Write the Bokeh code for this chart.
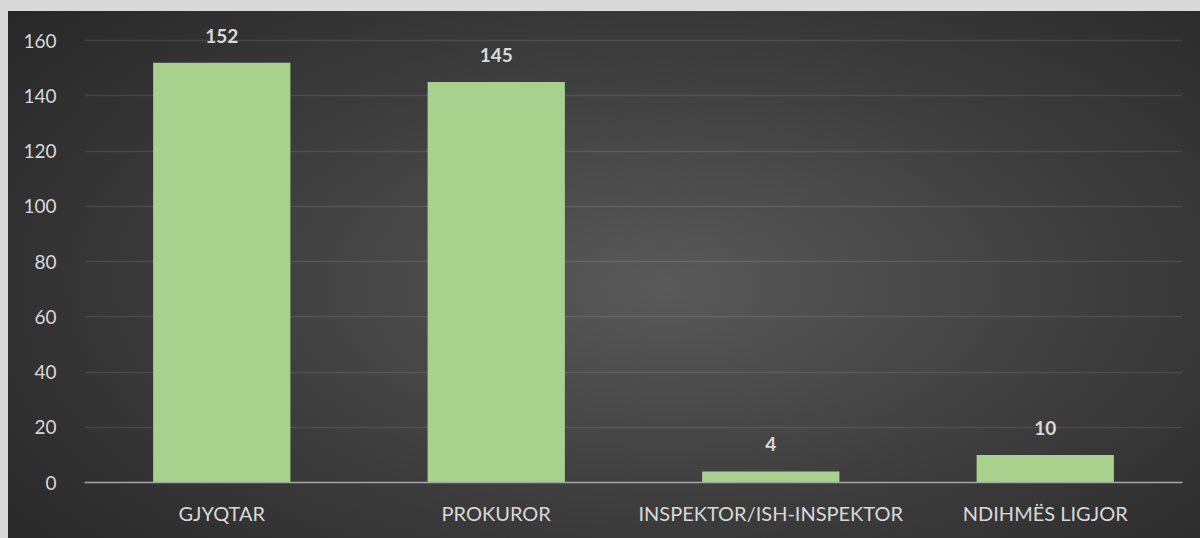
from bokeh.plotting import figure
from bokeh.models import ColumnDataSource, Range1d, FixedTicker
from bokeh.embed import file_html
from bokeh.resources import INLINE
from bokeh.core.properties import value

categories = ["GJYQTAR", "PROKUROR", "INSPEKTOR/ISH-INSPEKTOR", "NDIHMËS LIGJOR"]
counts = [152, 145, 4, 10]
y_ticks = [0, 20, 40, 60, 80, 100, 120, 140, 160]

FONT = "Lato"
TXT = "#d9d9d9"

src = ColumnDataSource(dict(cat=categories, val=counts, lab=[str(v) for v in counts]))

p = figure(x_range=categories, y_range=Range1d(0, 168), width=1192, height=527,
           output_backend="svg", toolbar_location=None,
           min_border_left=76, min_border_right=18, min_border_top=7, min_border_bottom=56)
p.styles = {"background": "radial-gradient(ellipse 70% 80% at 55% 52%, #595959 0%, #3c3c3c 55%, #282828 100%)"}
p.border_fill_color = None
p.background_fill_color = None
p.outline_line_color = None

p.vbar(x="cat", top="val", width=0.5, source=src, fill_color="#a9d18e", line_color=None)
p.text(x="cat", y="val", text="lab", source=src, text_align="center", text_baseline="bottom",
       y_offset=-20, text_font=value(FONT), text_font_size="19px", text_font_style="bold",
       text_color=TXT)

p.yaxis.ticker = FixedTicker(ticks=y_ticks)
p.yaxis.axis_line_color = None
p.yaxis.major_tick_line_color = None
p.yaxis.minor_tick_line_color = None
p.yaxis.major_label_standoff = 22
p.xaxis.axis_line_color = "#a6a6a6"
p.xaxis.axis_line_width = 1.5
p.xaxis.major_tick_line_color = None
p.xaxis.minor_tick_line_color = None
p.xaxis.major_label_standoff = 12
for ax in (p.xaxis, p.yaxis):
    ax.major_label_text_font = FONT
    ax.major_label_text_color = TXT
p.yaxis.major_label_text_font_size = "19px"
p.xaxis.major_label_text_font_size = "20px"

p.xgrid.grid_line_color = None
p.ygrid.grid_line_color = "white"
p.ygrid.grid_line_alpha = 0.1
p.ygrid.grid_line_width = 1.5

html = file_html(p, INLINE)
html = html.replace("</head>", "<style>html,body{margin:0;padding:0;background:#d9d9d9;overflow:hidden}body{padding:11px 0 0 8px}</style></head>", 1)
open("out.html", "w").write(html)
